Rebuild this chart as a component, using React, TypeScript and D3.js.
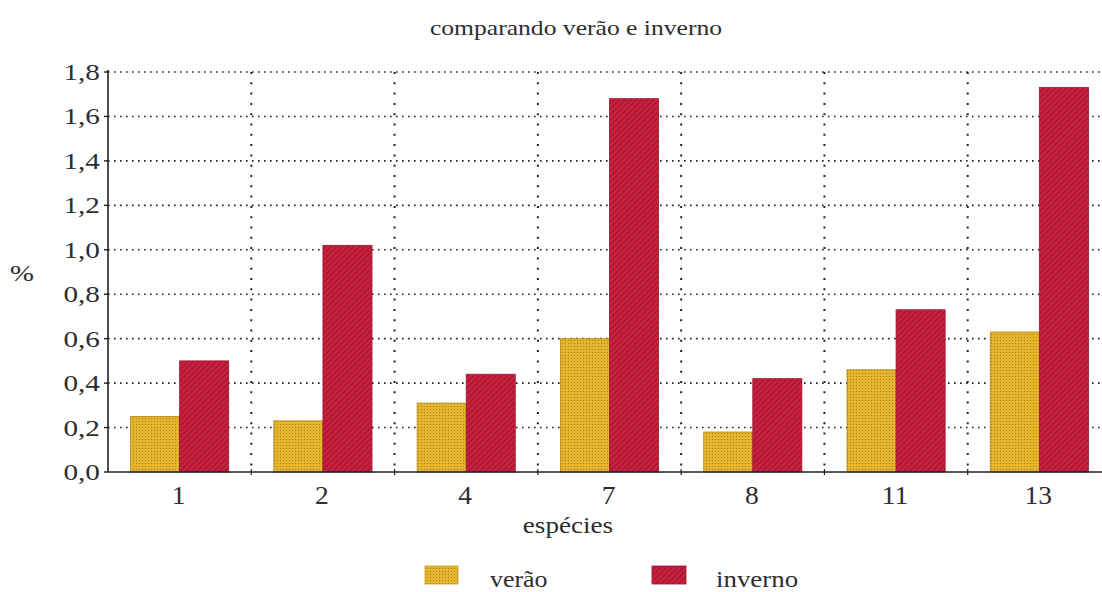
import React from "react";
import * as d3 from "d3";

const categories = ["1", "2", "4", "7", "8", "11", "13"];
const veraoValues = [0.25, 0.23, 0.31, 0.6, 0.18, 0.46, 0.63];
const invernoValues = [0.5, 1.02, 0.44, 1.68, 0.42, 0.73, 1.73];
const yTicks = [0, 0.2, 0.4, 0.6, 0.8, 1.0, 1.2, 1.4, 1.6, 1.8];
const seriesNames = ["verão", "inverno"];

const W = 1102;
const H = 592;
const left = 108;
const right = 1111;
const top = 72;
const bottom = 472;
const font = "Liberation Serif, Times New Roman, serif";

type TProps = { x: number; y: number; size: number; sx: number; anchor?: string; children: React.ReactNode };
function T({ x, y, size, sx, anchor = "start", children }: TProps) {
  return (
    <text
      transform={`translate(${x},${y}) scale(${sx},1)`}
      textAnchor={anchor}
      style={{ fontFamily: font }}
      fontSize={size}
      fill="#2e2e2e"
    >
      {children}
    </text>
  );
}

export default function App() {
  const x = d3.scaleBand<string>().domain(categories).range([left, right]).paddingInner(0).paddingOuter(0);
  const y = d3.scaleLinear().domain([0, 1.8]).range([bottom, top]);
  const inner = d3.scaleBand<string>().domain(seriesNames).range([0, x.bandwidth()]).paddingInner(0).paddingOuter(0.46);
  const fmt = (v: number) => d3.format(".1f")(v).replace(".", ",");
  const boundaries = categories.slice(1).map((c) => x(c)!);

  return (
    <svg width={W} height={H} style={{ position: "absolute", left: 0, top: 0, background: "#fff" }}>
      <defs>
        <pattern id="dots" width="3" height="3" patternUnits="userSpaceOnUse">
          <rect width="3" height="3" fill="#e6b52e" />
          <rect x="1" y="1" width="1" height="1" fill="#7a5a10" opacity="0.6" />
        </pattern>
        <pattern id="hatch" width="4" height="4" patternUnits="userSpaceOnUse" patternTransform="rotate(45)">
          <rect width="4" height="4" fill="#cc1f40" />
          <line x1="0" y1="0" x2="0" y2="4" stroke="#4a1018" strokeWidth="1.2" opacity="0.75" />
        </pattern>
      </defs>
      <T x={576} y={35} size={21} sx={1.22} anchor="middle">comparando verão e inverno</T>
      {yTicks.slice(1).map((t) => (
        <line key={t} x1={left} x2={W} y1={y(t)} y2={y(t)} stroke="#222" strokeWidth={1.6} strokeDasharray="1.6 4.4" />
      ))}
      {boundaries.map((b, i) => (
        <line key={i} x1={b} x2={b} y1={top} y2={bottom} stroke="#222" strokeWidth={2} strokeDasharray="2 8.3" />
      ))}
      {categories.map((c, i) => (
        <g key={c}>
          <rect x={x(c)! + inner("verão")!} y={y(veraoValues[i])} width={inner.bandwidth()} height={bottom - y(veraoValues[i])} fill="url(#dots)" stroke="#b08818" strokeWidth={0.8} />
          <rect x={x(c)! + inner("inverno")!} y={y(invernoValues[i])} width={inner.bandwidth()} height={bottom - y(invernoValues[i])} fill="url(#hatch)" stroke="#a01530" strokeWidth={0.8} />
        </g>
      ))}
      <line x1={left} x2={left} y1={top - 2} y2={bottom} stroke="#222" strokeWidth={1.6} />
      <line x1={left} x2={W} y1={bottom} y2={bottom} stroke="#222" strokeWidth={1.6} />
      {yTicks.map((t) => (
        <g key={t}>
          <line x1={left - 4} x2={left} y1={y(t)} y2={y(t)} stroke="#222" strokeWidth={1.4} />
          <T x={100} y={y(t) + 8} size={24} sx={1.22} anchor="end">{fmt(t)}</T>
        </g>
      ))}
      {boundaries.map((b, i) => (
        <line key={i} x1={b} x2={b} y1={bottom - 3} y2={bottom + 3} stroke="#222" strokeWidth={1.2} />
      ))}
      {categories.map((c) => (
        <T key={c} x={x(c)! + x.bandwidth() / 2 - 1} y={504} size={25} sx={1.1} anchor="middle">{c}</T>
      ))}
      <T x={22} y={281} size={24} sx={1.2} anchor="middle">%</T>
      <T x={568} y={533} size={24} sx={1.13} anchor="middle">espécies</T>
      <rect x={425} y={566} width={33} height={18} fill="url(#dots)" stroke="#c9a020" strokeWidth={0.8} />
      <T x={490} y={587} size={24} sx={1.08}>{seriesNames[0]}</T>
      <rect x={652} y={566} width={34} height={18} fill="url(#hatch)" stroke="#a01530" strokeWidth={0.8} />
      <T x={716} y={587} size={24} sx={1.12}>{seriesNames[1]}</T>
    </svg>
  );
}
